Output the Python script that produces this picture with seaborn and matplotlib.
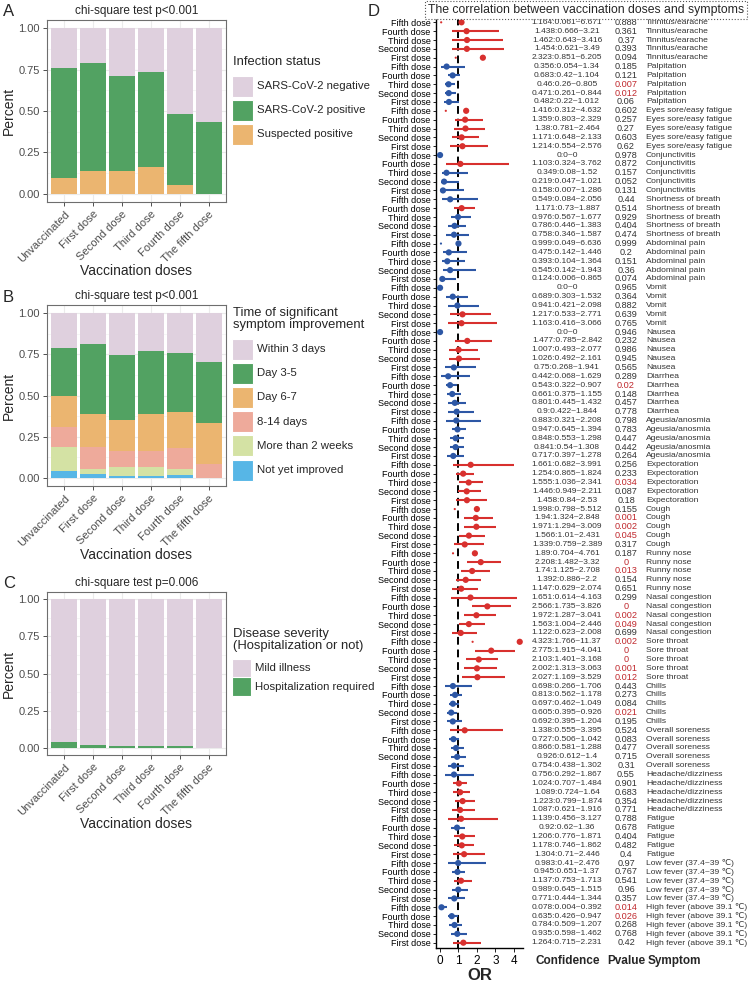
import numpy as np
import matplotlib
matplotlib.use("Agg")
import matplotlib.pyplot as plt
import matplotlib.transforms as mtransforms
from matplotlib.patches import Rectangle
from matplotlib import font_manager
import seaborn as sns

# ---------------- data ----------------
doses = ["Unvaccinated", "First dose", "Second dose", "Third dose", "Fourth dose", "The fifth dose"]

# panel A, stacked bottom -> top
infection_labels = ["Suspected positive", "SARS-CoV-2 positive", "SARS-CoV-2 negative"]
suspected = [0.094, 0.140, 0.140, 0.163, 0.051, 0.000]
positive = [0.666, 0.652, 0.573, 0.574, 0.430, 0.434]
negative = [0.240, 0.208, 0.287, 0.263, 0.519, 0.566]

# panel B, stacked bottom -> top
improve_labels = ["Not yet improved", "More than 2 weeks", "8-14 days", "Day 6-7", "Day 3-5", "Within 3 days"]
not_yet = [0.039, 0.020, 0.008, 0.008, 0.016, 0.000]
more_2w = [0.146, 0.031, 0.057, 0.057, 0.035, 0.000]
d8_14 = [0.121, 0.138, 0.097, 0.097, 0.131, 0.085]
d6_7 = [0.191, 0.200, 0.189, 0.223, 0.219, 0.245]
d3_5 = [0.293, 0.421, 0.394, 0.385, 0.359, 0.375]
within3 = [0.210, 0.190, 0.255, 0.230, 0.240, 0.295]

# panel C, stacked bottom -> top
severity_labels = ["Hospitalization required", "Mild illness"]
hospital = [0.035, 0.020, 0.012, 0.008, 0.013, 0.000]
mild = [0.965, 0.980, 0.988, 0.992, 0.987, 1.000]

# panel D, each symptom listed Fifth -> First dose (top -> bottom)
dose_rows = ["Fifth dose", "Fourth dose", "Third dose", "Second dose", "First dose"]
symptoms = ["Tinnitus/earache", "Palpitation", "Eyes sore/easy fatigue", "Conjunctivitis",
            "Shortness of breath", "Abdominal pain", "Vomit", "Nausea", "Diarrhea",
            "Ageusia/anosmia", "Expectoration", "Cough", "Runny nose", "Nasal congestion",
            "Sore throat", "Chills", "Overall soreness", "Headache/dizziness", "Fatigue",
            "Low fever (37.4~39 \u2103)", "High fever (above 39.1 \u2103)"]
or_vals = [[1.164, 1.438, 1.462, 1.454, 2.323], [0.356, 0.683, 0.46, 0.471, 0.482],
           [1.416, 1.359, 1.38, 1.171, 1.214], [0, 1.103, 0.349, 0.219, 0.158],
           [0.549, 1.171, 0.976, 0.786, 0.758], [0.999, 0.475, 0.393, 0.545, 0.124],
           [0, 0.689, 0.941, 1.217, 1.163], [0, 1.477, 1.007, 1.026, 0.75],
           [0.442, 0.543, 0.661, 0.801, 0.9], [0.883, 0.947, 0.848, 0.841, 0.717],
           [1.661, 1.254, 1.555, 1.446, 1.458], [1.998, 1.94, 1.971, 1.566, 1.339],
           [1.89, 2.208, 1.74, 1.392, 1.147], [1.651, 2.566, 1.972, 1.563, 1.122],
           [4.323, 2.775, 2.103, 2.002, 2.027], [0.698, 0.813, 0.697, 0.605, 0.692],
           [1.338, 0.727, 0.866, 0.926, 0.754], [0.756, 1.024, 1.089, 1.223, 1.087],
           [1.139, 0.92, 1.206, 1.178, 1.304], [0.983, 0.945, 1.137, 0.989, 0.771],
           [0.078, 0.635, 0.784, 0.935, 1.264]]
ci_low = [[0.061, 0.666, 0.643, 0.621, 0.851], [0.054, 0.42, 0.26, 0.261, 0.22],
          [0.312, 0.803, 0.781, 0.648, 0.554], [0, 0.324, 0.08, 0.047, 0.007],
          [0.084, 0.73, 0.567, 0.446, 0.346], [0.049, 0.142, 0.104, 0.142, 0.006],
          [0, 0.303, 0.421, 0.533, 0.416], [0, 0.785, 0.493, 0.492, 0.268],
          [0.068, 0.322, 0.375, 0.445, 0.422], [0.321, 0.645, 0.553, 0.54, 0.397],
          [0.682, 0.865, 1.036, 0.949, 0.84], [0.798, 1.324, 1.294, 1.01, 0.759],
          [0.704, 1.482, 1.125, 0.886, 0.629], [0.614, 1.735, 1.287, 1.004, 0.623],
          [1.766, 1.915, 1.401, 1.313, 1.169], [0.266, 0.562, 0.462, 0.395, 0.395],
          [0.555, 0.506, 0.581, 0.612, 0.438], [0.292, 0.707, 0.724, 0.799, 0.621],
          [0.456, 0.62, 0.776, 0.746, 0.71], [0.41, 0.651, 0.753, 0.645, 0.444],
          [0.004, 0.426, 0.509, 0.598, 0.715]]
ci_high = [[6.671, 3.21, 3.416, 3.49, 6.205], [1.34, 1.104, 0.805, 0.844, 1.012],
           [4.632, 2.329, 2.464, 2.133, 2.576], [0, 3.762, 1.52, 1.021, 1.286],
           [2.056, 1.887, 1.677, 1.383, 1.587], [6.636, 1.446, 1.364, 1.943, 0.865],
           [0, 1.532, 2.098, 2.771, 3.066], [0, 2.842, 2.077, 2.161, 1.941],
           [1.629, 0.907, 1.155, 1.432, 1.844], [2.208, 1.394, 1.298, 1.308, 1.278],
           [3.991, 1.824, 2.341, 2.211, 2.53], [5.512, 2.848, 3.009, 2.431, 2.389],
           [4.761, 3.32, 2.708, 2.2, 2.074], [4.163, 3.826, 3.041, 2.446, 2.008],
           [11.37, 4.041, 3.168, 3.063, 3.529], [1.706, 1.178, 1.049, 0.926, 1.204],
           [3.395, 1.042, 1.288, 1.4, 1.302], [1.867, 1.484, 1.64, 1.874, 1.916],
           [3.127, 1.36, 1.871, 1.862, 2.446], [2.476, 1.37, 1.713, 1.515, 1.344],
           [0.392, 0.947, 1.207, 1.462, 2.231]]
p_vals = [[0.888, 0.361, 0.37, 0.393, 0.094], [0.185, 0.121, 0.007, 0.012, 0.06],
          [0.602, 0.257, 0.27, 0.603, 0.62], [0.978, 0.872, 0.157, 0.052, 0.131],
          [0.44, 0.514, 0.929, 0.404, 0.474], [0.999, 0.2, 0.151, 0.36, 0.074],
          [0.965, 0.364, 0.882, 0.639, 0.765], [0.946, 0.232, 0.986, 0.945, 0.565],
          [0.289, 0.02, 0.148, 0.457, 0.778], [0.798, 0.783, 0.447, 0.442, 0.264],
          [0.256, 0.233, 0.034, 0.087, 0.18], [0.155, 0.001, 0.002, 0.045, 0.317],
          [0.187, 0, 0.013, 0.154, 0.651], [0.299, 0, 0.002, 0.049, 0.699],
          [0.002, 0, 0, 0.001, 0.012], [0.443, 0.273, 0.084, 0.021, 0.195],
          [0.524, 0.083, 0.477, 0.715, 0.31], [0.55, 0.901, 0.683, 0.354, 0.771],
          [0.788, 0.678, 0.404, 0.482, 0.4], [0.97, 0.767, 0.541, 0.96, 0.357],
          [0.014, 0.026, 0.268, 0.768, 0.42]]

# ---------------- style ----------------
sns.set_theme(style="white")
plt.rcParams["font.family"] = ["Liberation Sans", "DejaVu Sans", "Noto Sans CJK SC"]
installed = {f.name for f in font_manager.fontManager.ttflist}
narrow = "Liberation Sans Narrow" if "Liberation Sans Narrow" in installed else "Liberation Sans"

LILAC, GREEN, ORANGE = "#DFD0DE", "#52A262", "#EBB570"
SALMON, LIGHTGREEN, SKY = "#EEAA9B", "#D4E2A4", "#57B6E6"
RED, BLUE = "#D8302E", "#2D57A5"

W, H = 750, 1001
fig = plt.figure(figsize=(W / 100, H / 100), dpi=100)


def add_axes(l, t, r, b):
    return fig.add_axes([l / W, 1 - b / H, (r - l) / W, (b - t) / H])


def fx(x):
    return x / W


def fy(y):
    return 1 - y / H


def stacked(ax, layers, colors, title):
    cum = np.cumsum(np.array(layers), axis=0)
    for vals, col in zip(cum[::-1], colors[::-1]):
        sns.barplot(x=doses, y=vals, color=col, width=0.9, saturation=1,
                    errorbar=None, edgecolor="none", ax=ax)
    ax.set_xlim(-0.6, 5.6)
    ax.set_ylim(-0.05, 1.05)
    ax.set_yticks([0, 0.25, 0.5, 0.75, 1.0])
    ax.set_yticklabels(["0.00", "0.25", "0.50", "0.75", "1.00"], fontsize=8, color="#4D4D4D")
    ax.set_yticks([0.125, 0.375, 0.625, 0.875], minor=True)
    ax.set_xticks(range(6))
    ax.set_xticklabels(doses, rotation=45, ha="right", rotation_mode="anchor",
                       fontsize=8, color="#4D4D4D")
    ax.tick_params(axis="both", which="major", length=3, width=0.6, color="#333333",
                   bottom=True, left=True, pad=2)
    ax.tick_params(axis="y", which="minor", length=0)
    ax.set_axisbelow(True)
    ax.grid(True, which="major", color="#EBEBEB", lw=0.8)
    ax.grid(True, which="minor", axis="y", color="#F3F3F3", lw=0.5)
    for s in ax.spines.values():
        s.set_color("#6E6E6E")
        s.set_linewidth(0.8)
    ax.set_xlabel("Vaccination doses", fontsize=10, labelpad=0)
    ax.set_ylabel("Percent", fontsize=10, labelpad=2)
    ax.set_title(title, fontsize=8.5, pad=4)


def legend_block(x, y_title, title, labels, colors, y_first, step=24.2, key=21):
    fig.text(fx(x), fy(y_title), title, fontsize=9.4, va="center", ha="left",
             linespacing=1.0)
    for i, (lab, col) in enumerate(zip(labels, colors)):
        yc = y_first + i * step
        fig.patches.append(Rectangle((fx(x - 1), fy(yc + key / 2)), key / W, key / H,
                                     transform=fig.transFigure, fc=col, ec="white", lw=0.8))
        fig.text(fx(x + key + 3), fy(yc), lab, fontsize=8.2, va="center", ha="left")


# ---------------- panel A ----------------
axA = add_axes(47, 20, 226, 202)
stacked(axA, [suspected, positive, negative], [ORANGE, GREEN, LILAC], "chi-square test p<0.001")
legend_block(233, 62, "Infection status", infection_labels[::-1], [LILAC, GREEN, ORANGE], 86)
fig.text(fx(3), fy(11), "A", fontsize=12, va="center")

# ---------------- panel B ----------------
axB = add_axes(47, 305, 226, 486)
stacked(axB, [not_yet, more_2w, d8_14, d6_7, d3_5, within3],
        [SKY, LIGHTGREEN, SALMON, ORANGE, GREEN, LILAC], "chi-square test p<0.001")
legend_block(233, 319, "Time of significant\nsymptom improvement", improve_labels[::-1],
             [LILAC, GREEN, ORANGE, SALMON, LIGHTGREEN, SKY], 349)
fig.text(fx(3), fy(297), "B", fontsize=12, va="center")

# ---------------- panel C ----------------
axC = add_axes(47, 592, 226, 755)
stacked(axC, [hospital, mild], [GREEN, LILAC], "chi-square test p=0.006")
legend_block(233, 640, "Disease severity\n(Hospitalization or not)", severity_labels[::-1],
             [LILAC, GREEN], 668, step=18.5, key=19)
fig.text(fx(3), fy(583), "C", fontsize=12, va="center")

# ---------------- panel D ----------------
or_flat = np.concatenate(or_vals)
lo_flat = np.concatenate(ci_low)
hi_flat = np.concatenate(ci_high)
p_flat = np.concatenate(p_vals)
n_rows = len(or_flat)
rows = np.arange(n_rows)
row_doses = dose_rows * len(symptoms)
row_symptoms = [s for s in symptoms for _ in dose_rows]
effect = np.where(or_flat > 1, "risk", "protect")
pal = {"risk": RED, "protect": BLUE}
X_MAX = 4.5

axD = add_axes(436, 17, 523, 948)
shown = hi_flat <= X_MAX
axD.hlines(rows[shown], lo_flat[shown], hi_flat[shown],
           colors=[pal[e] for e in effect[shown]], lw=1.5, zorder=2)
# intervals running off the axis: only the lower end remains as a speck
axD.scatter(lo_flat[~shown], rows[~shown], s=2.5,
            c=[pal[e] for e in effect[~shown]], lw=0, zorder=3)
axD.axvline(1, color="black", lw=1.4, ls=(0, (4, 2.5)), zorder=1)
sns.scatterplot(x=or_flat, y=rows, hue=effect, palette=pal, s=20, edgecolor="none",
                legend=False, zorder=4, ax=axD)
axD.set_xlim(-0.22, X_MAX)
axD.set_ylim(n_rows - 0.4, -0.6)
axD.set_yticks(rows)
axD.set_yticklabels(row_doses, fontsize=6.5, family=narrow, color="black")
axD.set_xticks([0, 1, 2, 3, 4])
axD.set_xticklabels(["0", "1", "2", "3", "4"], fontsize=8.5, color="black")
axD.tick_params(axis="y", length=2.5, width=0.6, color="black", pad=1.5, left=True)
axD.tick_params(axis="x", length=3, width=0.6, color="black", pad=2, bottom=True)
for side in ["top", "right"]:
    axD.spines[side].set_visible(False)
for side in ["left", "bottom"]:
    axD.spines[side].set_color("black")
    axD.spines[side].set_linewidth(1.0)
axD.set_xlabel("OR", fontsize=12, fontweight="bold", labelpad=1)
axD.set_ylabel("")


def fmt(v):
    s = f"{v:.3f}".rstrip("0").rstrip(".")
    return s if s else "0"


blend = mtransforms.blended_transform_factory(fig.transFigure, axD.transData)
for i in range(n_rows):
    conf = f"{fmt(or_flat[i])}:{fmt(lo_flat[i])}~{fmt(hi_flat[i])}"
    axD.text(fx(567), i, conf, transform=blend, fontsize=6.0, ha="center", va="center",
             color="#333333", clip_on=False)
    axD.text(fx(626), i, fmt(p_flat[i]), transform=blend, fontsize=6.6, ha="center",
             va="center", color="#C0282D" if p_flat[i] < 0.05 else "#333333", clip_on=False)
    axD.text(fx(646), i, row_symptoms[i], transform=blend, fontsize=6.1, ha="left",
             va="center", color="#333333", clip_on=False)

fig.text(fx(568), fy(961), "Confidence", fontsize=8.5, fontweight="bold", ha="center", va="center")
fig.text(fx(626), fy(961), "Pvalue", fontsize=8.5, fontweight="bold", ha="center", va="center")
fig.text(fx(648), fy(961), "Symptom", fontsize=8.5, fontweight="bold", ha="left", va="center")

fig.text(fx(586), fy(10), "The correlation between vaccination doses and symptoms",
         fontsize=8.8, ha="center", va="center",
         bbox=dict(boxstyle="square,pad=0.25", fc="white", ec="#555555", ls=":", lw=0.8))
fig.text(fx(368), fy(11), "D", fontsize=12, va="center")

fig.savefig("out.png", dpi=100)
